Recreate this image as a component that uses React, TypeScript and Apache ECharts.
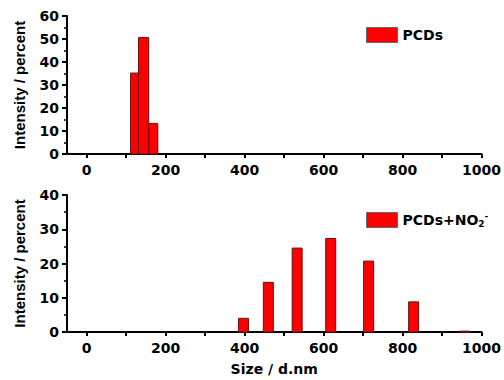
import React, { useEffect, useRef } from "react";
import * as echarts from "echarts";

// Top panel: PCDs (histogram bins, contiguous)
const pcdsBinLower = [111, 131, 157];
const pcdsBinUpper = [131, 157, 180];
const pcdsIntensity = [35.2, 50.6, 13.3];

// Bottom panel: PCDs + NO2-
const nitriteSize = [397, 460, 533, 618, 714, 828, 957];
const nitriteIntensity = [4.0, 14.5, 24.5, 27.3, 20.7, 8.8, 0.25];

const xLabelValues = [0, 200, 400, 600, 800, 1000];
const xTickValues = [0, 100, 200, 300, 400, 500, 600, 700, 800, 900, 1000];
const topYTicks = { min: 0, max: 60, interval: 10 };
const bottomYTicks = { min: 0, max: 40, interval: 10 };

const seriesNames = ["PCDs", "PCDs+NO2-"];

const FONT = "DejaVu Sans";
const RED = "#ff0000";
const EDGE = "#6b1010";

export default function App() {
  const ref = useRef<HTMLDivElement>(null);
  useEffect(() => {
    if (!ref.current) return;
    const chart = echarts.init(ref.current, null, { renderer: "svg" });
    const axisLine = { show: true, onZero: false, lineStyle: { color: "#000", width: 2 } };
    const tickLabel = { color: "#000", fontFamily: FONT, fontWeight: "bold" as const, fontSize: 14 };
    const makeX = (gridIndex: number, withName: boolean) => ({
      type: "value",
      gridIndex,
      min: -50,
      max: 1000,
      axisLine,
      splitLine: { show: false },
      axisTick: { show: true, customValues: xTickValues, length: 4, lineStyle: { color: "#000", width: 2 } },
      axisLabel: { ...tickLabel, customValues: xLabelValues, margin: 9, formatter: (v: number) => String(v) },
      name: withName ? "Size / d.nm" : "",
      nameLocation: "middle",
      nameGap: 30,
      nameTextStyle: { color: "#000", fontFamily: FONT, fontWeight: "bold", fontSize: 14 },
    });
    const makeY = (gridIndex: number, t: { min: number; max: number; interval: number }) => ({
      type: "value",
      gridIndex,
      min: t.min,
      max: t.max,
      interval: t.interval,
      axisLine,
      splitLine: { show: false },
      axisTick: { show: true, length: 5, lineStyle: { color: "#000", width: 2 } },
      minorTick: { show: true, splitNumber: 2, length: 3, lineStyle: { color: "#000", width: 1.5 } },
      axisLabel: { ...tickLabel, margin: 8 },
      name: "Intensity / percent",
      nameLocation: "middle",
      nameGap: 40,
      nameTextStyle: { color: "#000", fontFamily: "Liberation Sans", fontWeight: "bold", fontSize: 15 },
    });

    chart.setOption({
      animation: false,
      backgroundColor: "#fff",
      grid: [
        { left: 67, top: 16, width: 416, height: 138 },
        { left: 67, top: 195, width: 416, height: 137 },
      ],
      xAxis: [makeX(0, false), makeX(1, true)],
      yAxis: [makeY(0, topYTicks), makeY(1, bottomYTicks)],
      legend: [
        {
          left: 366,
          top: 27,
          padding: 0,
          icon: "rect",
          itemWidth: 31,
          itemHeight: 15,
          data: [{ name: seriesNames[0], itemStyle: { color: RED, borderColor: "#666", borderWidth: 1 } }],
          textStyle: { color: "#000", fontFamily: FONT, fontWeight: "bold", fontSize: 14 },
        },
        {
          left: 366,
          top: 211,
          padding: 0,
          icon: "rect",
          itemWidth: 31,
          itemHeight: 15,
          data: [{ name: seriesNames[1], itemStyle: { color: RED, borderColor: "#666", borderWidth: 1 } }],
          formatter: () => "PCDs+NO{sub|2}{sup|-}",
          textStyle: {
            color: "#000",
            fontFamily: FONT,
            fontWeight: "bold",
            fontSize: 14,
            rich: {
              sup: { fontFamily: FONT, fontWeight: "bold", fontSize: 9, color: "#000", padding: [0, 0, 9, 0] },
              sub: { fontFamily: FONT, fontWeight: "bold", fontSize: 9, color: "#000", padding: [8, 0, 0, 0] },
            },
          },
        },
      ],
      series: [
        {
          name: seriesNames[0],
          type: "custom",
          xAxisIndex: 0,
          yAxisIndex: 0,
          itemStyle: { color: RED },
          encode: { x: [0, 1], y: 2 },
          data: pcdsBinLower.map((l, i) => [l, pcdsBinUpper[i], pcdsIntensity[i]]),
          renderItem: (params: any, api: any) => {
            const p0 = api.coord([api.value(0), api.value(2)]);
            const p1 = api.coord([api.value(1), 0]);
            return {
              type: "rect",
              shape: { x: p0[0], y: p0[1], width: p1[0] - p0[0], height: p1[1] - p0[1] },
              style: { fill: RED, stroke: EDGE, lineWidth: 1 },
            };
          },
        },
        {
          name: seriesNames[1],
          type: "custom",
          xAxisIndex: 1,
          yAxisIndex: 1,
          itemStyle: { color: RED },
          encode: { x: 0, y: 1 },
          data: nitriteSize.map((s, i) => [s, nitriteIntensity[i]]),
          renderItem: (params: any, api: any) => {
            const top = api.coord([api.value(0), api.value(1)]);
            const base = api.coord([api.value(0), 0]);
            const w = 10;
            return {
              type: "rect",
              shape: { x: top[0] - w / 2, y: top[1], width: w, height: base[1] - top[1] },
              style: { fill: RED, stroke: EDGE, lineWidth: 1 },
            };
          },
        },
      ],
    });
    return () => chart.dispose();
  }, []);
  return <div ref={ref} style={{ position: "fixed", left: 0, top: 0, width: 504, height: 380 }} />;
}
